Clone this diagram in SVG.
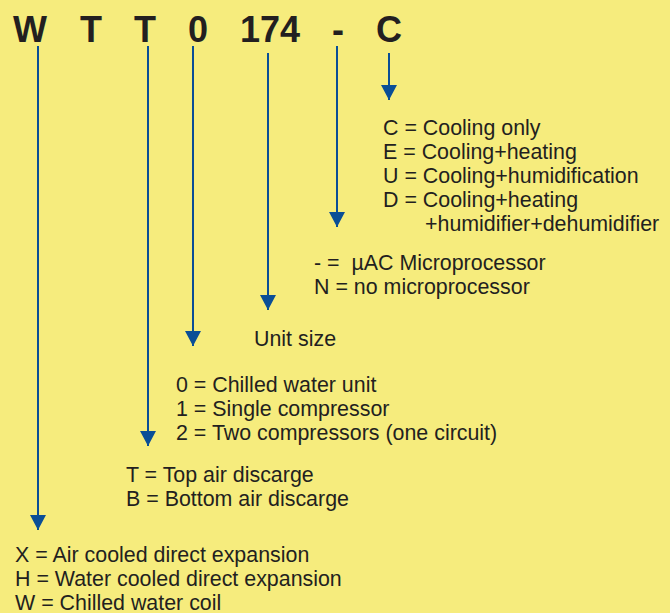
<svg xmlns="http://www.w3.org/2000/svg" width="670" height="613" viewBox="0 0 670 613">
<style>
.t{font-family:"Liberation Sans",Arial,sans-serif;font-size:21.4px;fill:#231F20;white-space:pre}
.h{font-family:"Liberation Sans",Arial,sans-serif;font-size:36px;font-weight:bold;fill:#231F20;text-anchor:middle}
.c line{stroke:#0A4E96;stroke-width:2}
</style>
<defs>
<marker id="a" markerWidth="16" markerHeight="15" refX="8" refY="15" orient="0" markerUnits="userSpaceOnUse" viewBox="0 0 16 15">
<path d="M0,0 L16,0 L8,15 Z" fill="#0A4E96"/>
</marker>
</defs>
<rect width="670" height="613" fill="#F6EC7D"/>
<g id="code">
<text class="h" x="30" y="42">W</text>
<text class="h" x="91" y="42">T</text>
<text class="h" x="145" y="42">T</text>
<text class="h" x="198" y="42">0</text>
<text class="h" x="270" y="42">174</text>
<text class="h" x="338" y="42">-</text>
<text class="h" x="389" y="42">C</text>
</g>
<g class="c" id="connectors">
<line x1="38" y1="46" x2="38" y2="530" marker-end="url(#a)"/>
<line x1="148" y1="46" x2="148" y2="446" marker-end="url(#a)"/>
<line x1="193" y1="46" x2="193" y2="346" marker-end="url(#a)"/>
<line x1="268" y1="53" x2="268" y2="310" marker-end="url(#a)"/>
<line x1="337" y1="46" x2="337" y2="227" marker-end="url(#a)"/>
<line x1="389" y1="53" x2="389" y2="100" marker-end="url(#a)"/>
</g>
<g id="n-c">
<text class="t" x="383" y="135">C = Cooling only</text>
<text class="t" x="383" y="159">E = Cooling+heating</text>
<text class="t" x="383" y="183">U = Cooling+humidification</text>
<text class="t" x="383" y="207">D = Cooling+heating</text>
<text class="t" x="425" y="231">+humidifier+dehumidifier</text>
</g>
<g id="n-dash">
<text class="t" x="314" y="270" xml:space="preserve">- =  µAC Microprocessor</text>
<text class="t" x="314" y="294">N = no microprocessor</text>
</g>
<g id="n-size">
<text class="t" x="254" y="346">Unit size</text>
</g>
<g id="n-0">
<text class="t" x="176" y="392">0 = Chilled water unit</text>
<text class="t" x="176" y="416">1 = Single compressor</text>
<text class="t" x="176" y="440">2 = Two compressors (one circuit)</text>
</g>
<g id="n-t">
<text class="t" x="126" y="482">T = Top air discarge</text>
<text class="t" x="126" y="506">B = Bottom air discarge</text>
</g>
<g id="n-w">
<text class="t" x="15" y="562">X = Air cooled direct expansion</text>
<text class="t" x="15" y="586">H = Water cooled direct expansion</text>
<text class="t" x="15" y="610">W = Chilled water coil</text>
</g>
</svg>
